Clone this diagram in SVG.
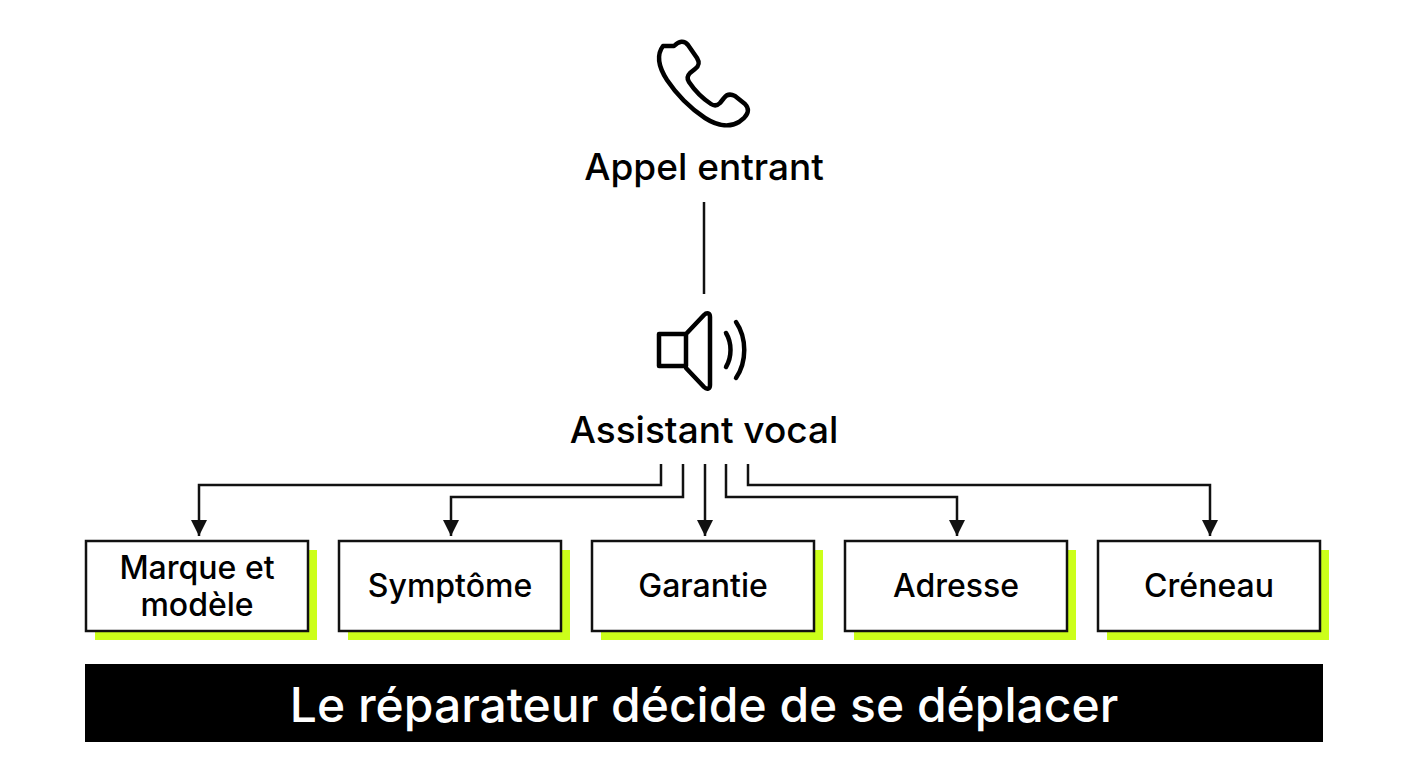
<svg xmlns="http://www.w3.org/2000/svg" width="1408" height="768" viewBox="0 0 1408 768">
<style>
text{font-family:Inter,"Liberation Sans",sans-serif;fill:#000;text-anchor:middle;font-weight:500}
.lbl{font-size:37px}
.t{font-size:32px}
.ic{fill:none;stroke:#000;stroke-width:4.5;stroke-linejoin:round;stroke-linecap:round}
.box{fill:#fff;stroke:#111;stroke-width:2.5}
.sh{fill:#ccff1a}
.c{fill:none;stroke:#111;stroke-width:2.5}
</style>
<defs>
<marker id="ar" viewBox="0 0 10 10" markerWidth="16" markerHeight="16" refX="10" refY="5" orient="auto" markerUnits="userSpaceOnUse"><path d="M0,0L10,5L0,10z" fill="#111"/></marker></defs>
<rect width="1408" height="768" fill="#fff"/>
<g id="appel">
<path class="ic" d="M674,46c5,-5 10,-6 14,-1l9,13c3,5 2,8 -2,11l-5,4c-3,3 -3,6 -1,9c6,9 13,16 22,22c3,2 6,2 9,-1l4,-5c3,-4 7,-4 11,-2l10,8c4,4 4,9 -1,14l-5,4c-8,5 -20,5 -34,-4c-15,-10 -28,-23 -38,-38c-9,-14 -10,-26 -4,-34z"/>
<text class="lbl" x="704" y="180">Appel entrant</text>
</g>
<g id="assistant">
<path class="ic" d="M659,334h27v32h-27z M686,334l18,-19c3,-3 6,-2 6,2v68c0,4 -3,5 -6,2l-18,-19"/>
<path class="ic" d="M726,333c6,10 6,24 0,34 M736,322c11,16 11,40 0,56"/>
<text class="lbl" x="704" y="443">Assistant vocal</text>
</g>
<g id="connectors">
<line class="c" x1="704" y1="202" x2="704" y2="294"/>
<path class="c" d="M661,464V485H199V536" marker-end="url(#ar)"/>
<path class="c" d="M683,464V497H451V536" marker-end="url(#ar)"/>
<path class="c" d="M705,464V536" marker-end="url(#ar)"/>
<path class="c" d="M726,464V497H957V536" marker-end="url(#ar)"/>
<path class="c" d="M748,464V485H1210V536" marker-end="url(#ar)"/>
</g>
<g id="marque"><rect class="sh" x="95" y="550" width="222" height="90"/><rect class="box" x="86" y="541" width="222" height="90"/><text class="t" x="197" y="579">Marque et</text><text class="t" x="197" y="616">modèle</text></g>
<g id="symptome"><rect class="sh" x="348" y="550" width="222" height="90"/><rect class="box" x="339" y="541" width="222" height="90"/><text class="t" x="450" y="597">Symptôme</text></g>
<g id="garantie"><rect class="sh" x="601" y="550" width="222" height="90"/><rect class="box" x="592" y="541" width="222" height="90"/><text class="t" x="703" y="597">Garantie</text></g>
<g id="adresse"><rect class="sh" x="854" y="550" width="222" height="90"/><rect class="box" x="845" y="541" width="222" height="90"/><text class="t" x="956" y="597">Adresse</text></g>
<g id="creneau"><rect class="sh" x="1107" y="550" width="222" height="90"/><rect class="box" x="1098" y="541" width="222" height="90"/><text class="t" x="1209" y="597">Créneau</text></g>
<g id="bandeau"><rect x="85" y="664" width="1238" height="78" fill="#000"/><text x="704" y="722" style="font-size:48px;fill:#fff">Le réparateur décide de se déplacer</text></g>
</svg>
